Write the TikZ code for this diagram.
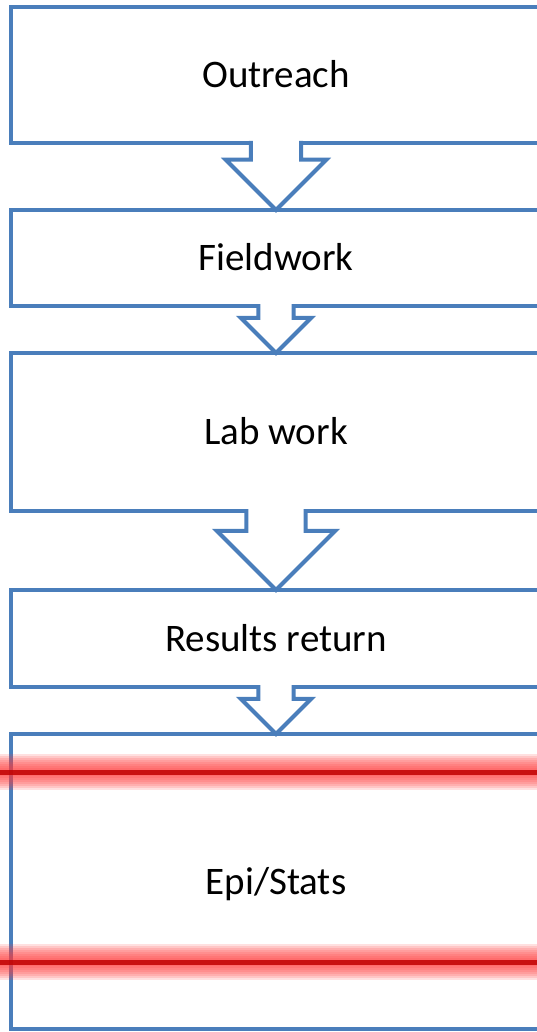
\documentclass[tikz,border=0pt]{standalone}
\usepackage{fontspec}
\setmainfont{Carlito}
\usetikzlibrary{calc}

\definecolor{boxblue}{RGB}{74,126,187}
\definecolor{markred}{RGB}{192,0,0}
\definecolor{glowred}{RGB}{255,60,60}

%block arrow from the bottom of one box to the top of the next
\newcommand{\flowarrow}[2]{%
  \draw[flowline,fill=white] let \p1=(#1.south), \p2=(#2.north),
      \n1={0.75*(\y1-\y2)} in
    ({\x1-0.5*\n1},{\y1+2pt}) -- ({\x1-0.5*\n1},{\y2+\n1})
    -- ({\x1-\n1},{\y2+\n1}) -- (\x2,\y2) -- ({\x1+\n1},{\y2+\n1})
    -- ({\x1+0.5*\n1},{\y2+\n1}) -- ({\x1+0.5*\n1},{\y1+2pt});}

\begin{document}
\begin{tikzpicture}[x=1pt,y=-1pt,
    flowline/.style={draw=boxblue,line width=4pt},
    stepbox/.style={flowline,rectangle,outer sep=0pt,minimum width=530pt,
      text height=25pt,text depth=0pt,
      font=\fontsize{39}{47}\selectfont,text=black}]
\useasboundingbox (0,0) rectangle (537,1032);
\clip (0,0) rectangle (537,1032);
%%boxes
\node[stepbox,minimum height=136pt] (outreach) at (276,75) {Outreach};
\node[stepbox,minimum height=96pt] (fieldwork) at (276,258) {Fieldwork};
\node[stepbox,minimum height=158pt] (labwork) at (276,432) {Lab work};
\node[stepbox,minimum height=97pt] (results) at (276,638.5) {Results return};
\node[stepbox,minimum height=295pt] (epistats) at (276,881.5) {Epi/Stats};
%%arrows
\flowarrow{outreach}{fieldwork}
\flowarrow{fieldwork}{labwork}
\flowarrow{labwork}{results}
\flowarrow{results}{epistats}
%%red marks
\foreach \yy in {772,962} {
  \foreach \i in {1,...,8}
    \draw[line width=4pt+4pt*\i,glowred,opacity=0.16] (0,\yy) -- (537,\yy);
  \draw[line width=5pt,markred,opacity=0.85] (0,\yy) -- (537,\yy);
}
\end{tikzpicture}
\end{document}
